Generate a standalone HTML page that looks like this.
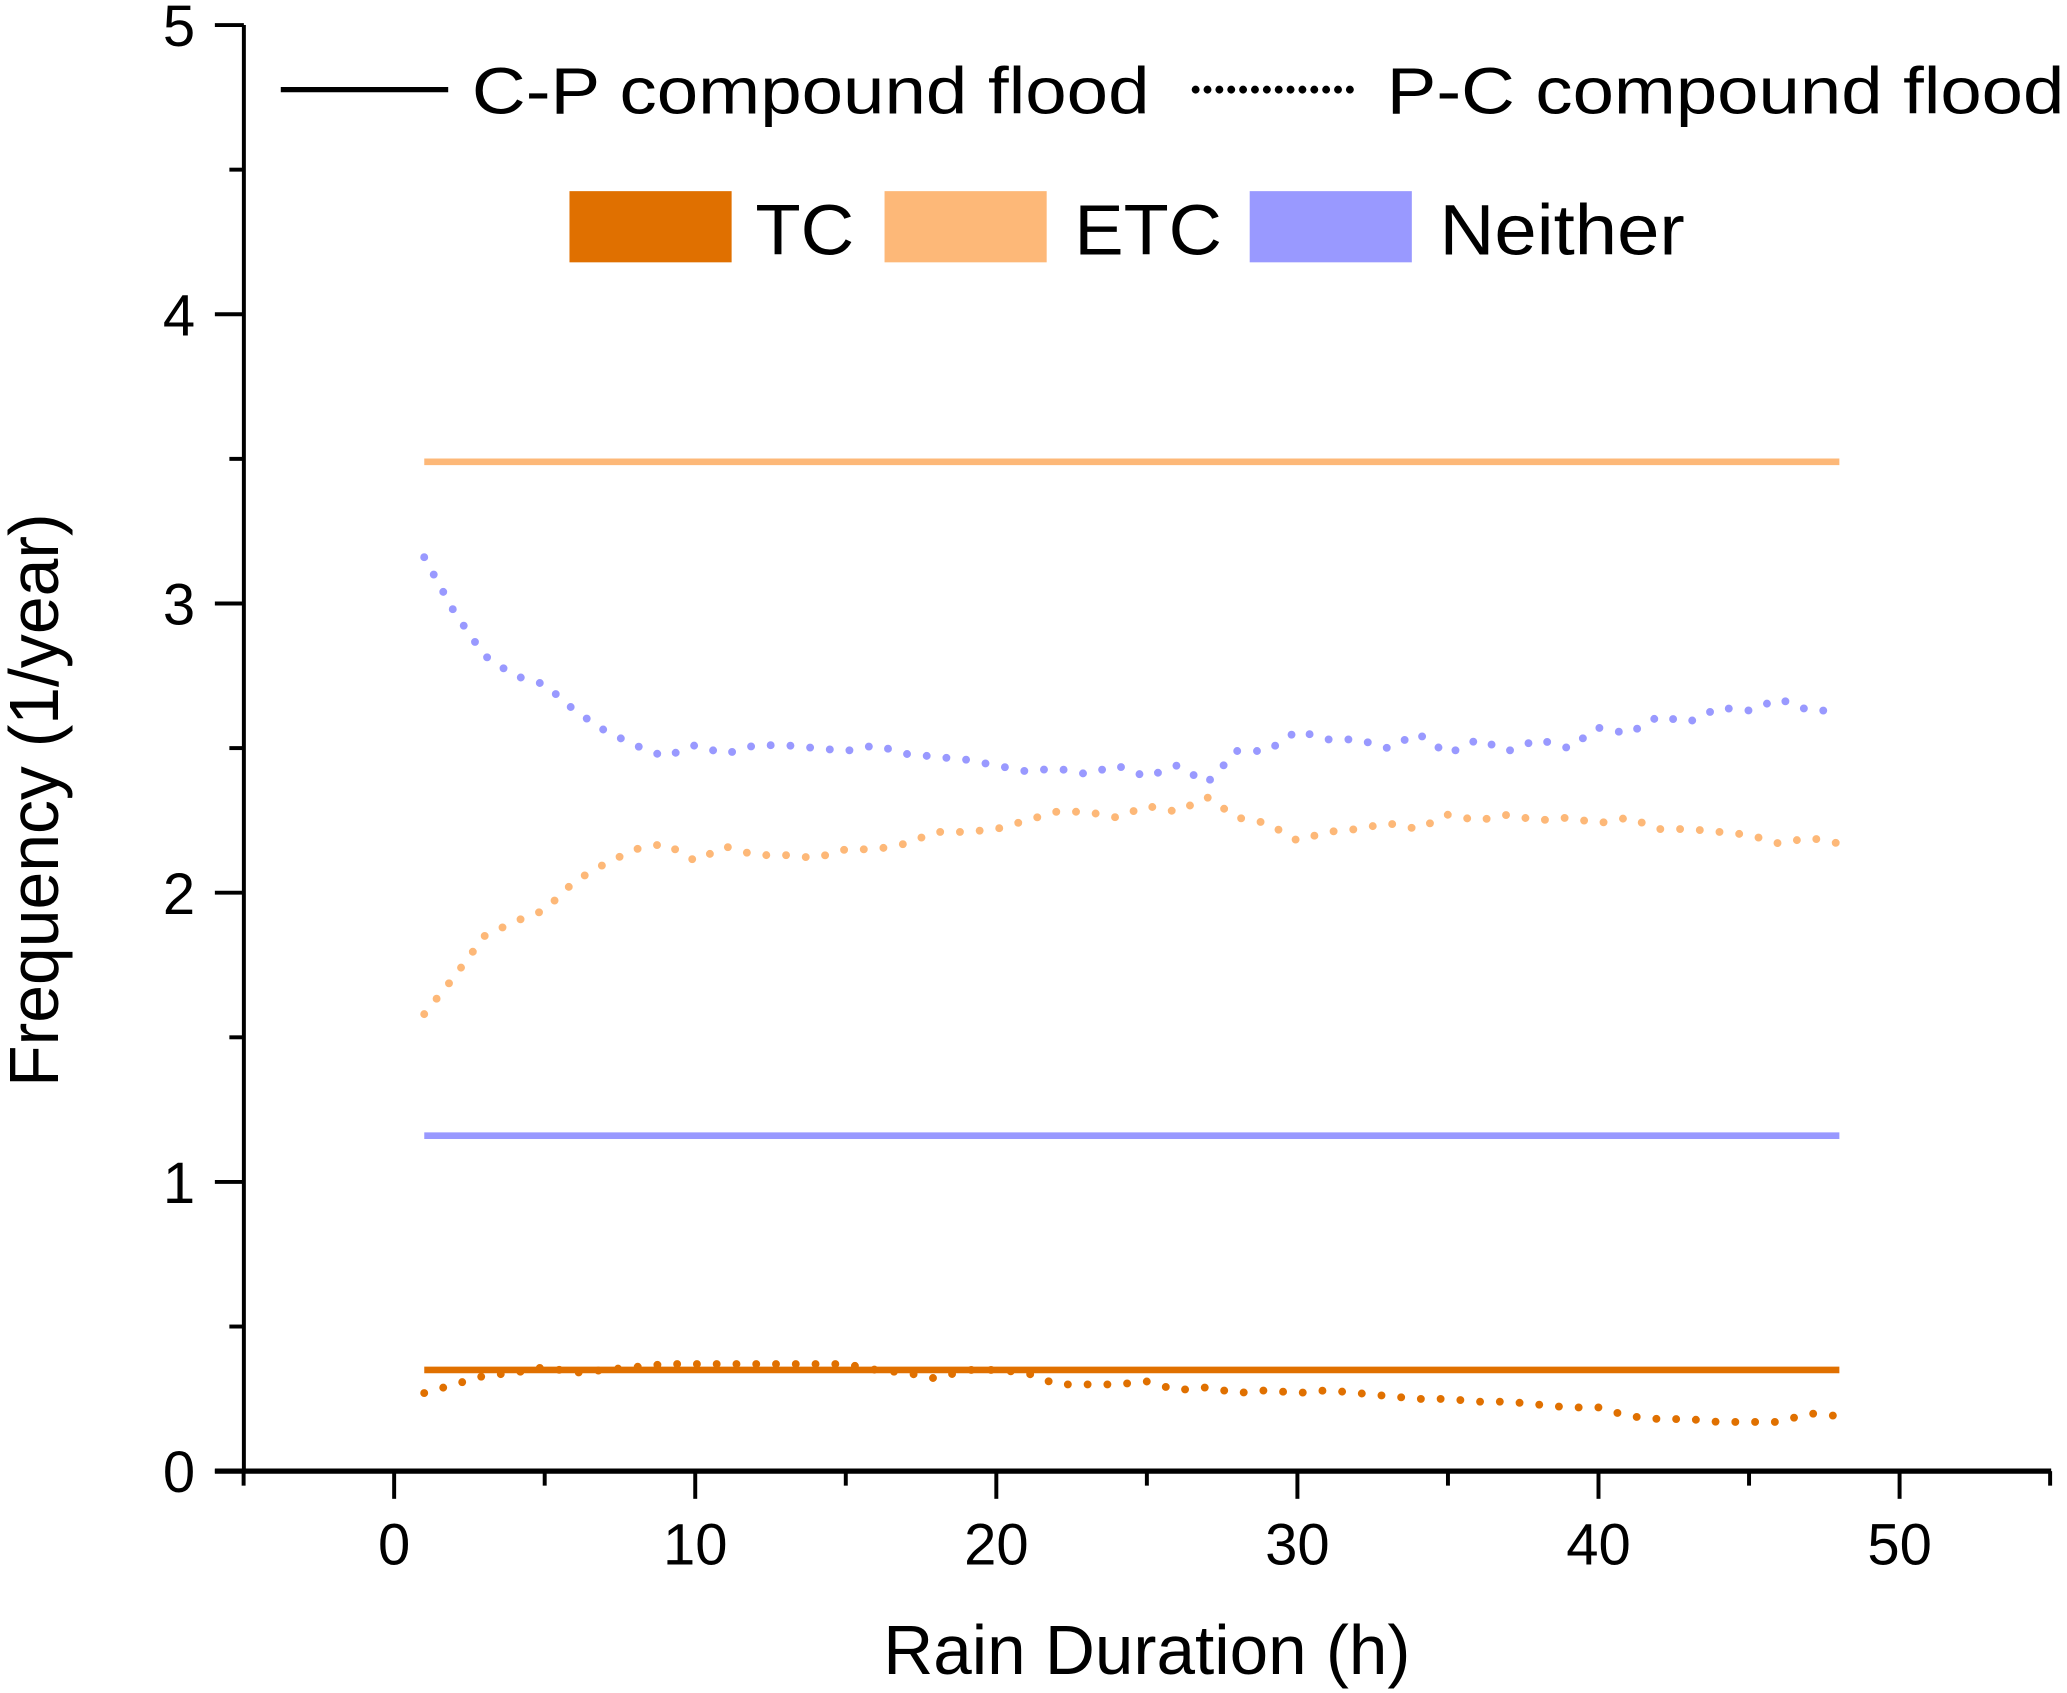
<!DOCTYPE html>
<html><head><meta charset="utf-8"><style>
html,body{margin:0;padding:0;background:#fff;}
svg{display:block;font-family:"Liberation Sans",Arial,sans-serif;}
</style></head><body>
<svg id="chart" width="2067" height="1693" viewBox="0 0 1568 1284.3" preserveAspectRatio="none" xmlns="http://www.w3.org/2000/svg">
<g id="axes"></g>
<g id="series"></g>
<g id="legend">
  <line x1="213" y1="68" x2="340" y2="68" stroke="#000" stroke-width="4"/>
  <text x="358" y="86" font-size="50" textLength="514" lengthAdjust="spacingAndGlyphs">C-P compound flood</text>
  <line x1="907" y1="68" x2="1033" y2="68" stroke="#000" stroke-width="6" stroke-linecap="round" stroke-dasharray="0 9"/>
  <text x="1052" y="86" font-size="50" textLength="514" lengthAdjust="spacingAndGlyphs">P-C compound flood</text>
  <rect x="432" y="145" width="123" height="54" fill="#E07000"/>
  <text x="573" y="193" font-size="54" textLength="75" lengthAdjust="spacingAndGlyphs">TC</text>
  <rect x="671" y="145" width="123" height="54" fill="#FDB878"/>
  <text x="815" y="193" font-size="54" textLength="112" lengthAdjust="spacingAndGlyphs">ETC</text>
  <rect x="948" y="145" width="123" height="54" fill="#9999FF"/>
  <text x="1092" y="193" font-size="54" textLength="186" lengthAdjust="spacingAndGlyphs">Neither</text>
</g>
<text x="870" y="1270" font-size="53" text-anchor="middle" textLength="400" lengthAdjust="spacingAndGlyphs">Rain Duration (h)</text>
<text transform="translate(44,607) rotate(-90)" font-size="53" text-anchor="middle" textLength="435" lengthAdjust="spacingAndGlyphs">Frequency (1/year)</text>
</svg>
<script>
const hours = [];
for (let h = 1; h <= 48; h++) hours.push(h);
const neitherPC = [3.16,2.97,2.82,2.75,2.72,2.63,2.56,2.51,2.47,2.51,2.48,2.51,2.51,2.50,2.49,2.51,2.48,2.47,2.46,2.44,2.42,2.43,2.41,2.44,2.40,2.44,2.38,2.49,2.49,2.56,2.53,2.53,2.50,2.55,2.48,2.53,2.49,2.53,2.50,2.57,2.55,2.61,2.59,2.64,2.63,2.67,2.63,2.63];
const etcPC = [1.58,1.71,1.85,1.90,1.94,2.04,2.10,2.15,2.17,2.11,2.16,2.13,2.13,2.12,2.15,2.15,2.17,2.21,2.21,2.22,2.25,2.28,2.28,2.26,2.30,2.28,2.33,2.26,2.24,2.18,2.21,2.22,2.24,2.22,2.27,2.25,2.27,2.25,2.26,2.24,2.26,2.22,2.22,2.21,2.20,2.17,2.19,2.17];
const tcPC = [0.27,0.30,0.33,0.34,0.36,0.34,0.35,0.36,0.37,0.37,0.37,0.37,0.37,0.37,0.37,0.35,0.34,0.32,0.35,0.35,0.34,0.30,0.30,0.30,0.31,0.28,0.29,0.27,0.28,0.27,0.28,0.27,0.26,0.25,0.25,0.24,0.24,0.23,0.22,0.22,0.19,0.18,0.18,0.17,0.17,0.17,0.20,0.19];
const cpValues = [3.49, 1.16, 0.35];
const cpNames = ['etc', 'neither', 'tc'];
const cpStart = 1, cpEnd = 48;
const xTicks = [0,10,20,30,40,50];
const yTicks = [0,1,2,3,4,5];

const NS = 'http://www.w3.org/2000/svg';
const X0 = 299, X50 = 1441, Y0 = 1116, Y5 = 19;
function sx(v){ return X0 + (X50 - X0) * v / 50; }
function sy(v){ return Y0 - (Y0 - Y5) * v / 5; }
const colors = {tc:'#E07000', etc:'#FDB878', neither:'#9999FF'};
function mk(tag, attrs, parent){ const e=document.createElementNS(NS,tag); for(const k in attrs) e.setAttribute(k,attrs[k]); parent.appendChild(e); return e; }

const axes = document.getElementById('axes');
let e;
e = mk('line',{x1:185,y1:Y5,x2:185,y2:Y0,stroke:'#000','stroke-width':3},axes);


e = mk('line',{x1:163,y1:Y0,x2:1556,y2:Y0,stroke:'#000','stroke-width':4},axes);


for (let v = 0; v <= 5.001; v += 0.5) {
  const major = Math.abs(v - Math.round(v)) < 1e-6;
  e = mk('line',{x1: major?163:174, y1: sy(v), x2:185, y2: sy(v), stroke:'#000','stroke-width':3},axes);
  
  
}
yTicks.forEach(v=>{
  e = mk('text',{x:148,y:sy(v)+16,'font-size':44,'text-anchor':'end'},axes);
  e.textContent = v;
  
  
});
for (let v = -5; v <= 55; v += 5) {
  const major = v % 10 === 0;
  e = mk('line',{x1:sx(v),y1:Y0,x2:sx(v),y2: major?1137:1127,stroke:'#000','stroke-width':3},axes);
  
  
}
xTicks.forEach(v=>{
  e = mk('text',{x:sx(v),y:1187,'font-size':44,'text-anchor':'middle'},axes);
  e.textContent = v;
  
  
});

const series = document.getElementById('series');
cpValues.forEach((v,i)=>{
  e = mk('line',{x1:sx(cpStart),y1:sy(v),x2:sx(cpEnd),y2:sy(v),stroke:colors[cpNames[i]],'stroke-width':5},series);
  
  
});
[['neither',neitherPC],['etc',etcPC],['tc',tcPC]].forEach(([n,arr])=>{
  const pts = arr.map((v,i)=>sx(hours[i]).toFixed(1)+','+sy(v).toFixed(1)).join(' ');
  e = mk('polyline',{points:pts,fill:'none',stroke:colors[n],'stroke-width':6,'stroke-linecap':'round','stroke-dasharray':'0 15'},series);
  
  
});
</script>
</body></html>
